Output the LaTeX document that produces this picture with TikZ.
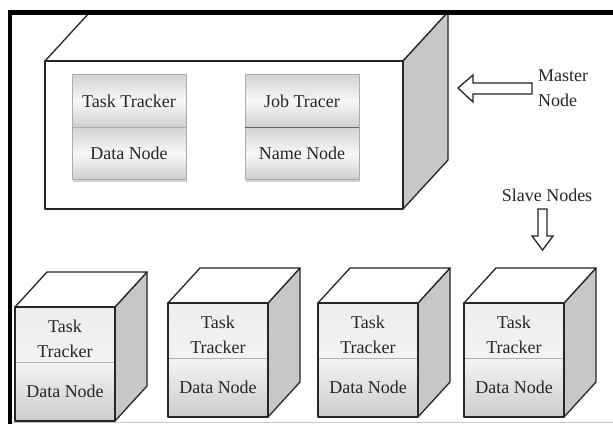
\documentclass[tikz,border=0pt]{standalone}
\usepackage{fontspec}
\setmainfont{Liberation Serif}
\usetikzlibrary{shadows}
\begin{document}
\begin{tikzpicture}[x=1pt,y=-1pt,
  edge/.style={draw=black!85, line width=1.3pt, line join=round},
  sideface/.style={edge, fill=black!22},
  topface/.style={edge, fill=white},
  lbl/.style={font=\fontsize{18}{25}\selectfont, text=black!85, inner sep=0pt, align=center},
  innerbox/.style={lbl, draw=gray!65, line width=0.6pt, minimum width=114pt, minimum height=52.5pt,
    top color=gray!35, bottom color=gray!38, middle color=gray!6,
    drop shadow={shadow xshift=1pt, shadow yshift=-2pt, opacity=0.35}},
  blockarrow/.style={draw=black!85, line width=1.3pt, fill=white, line join=miter}
]
\useasboundingbox (0,0) rectangle (613,424);
\fill[white] (0,0) rectangle (613,424);

% master cube
\draw[topface] (45,61) -- (90,12) -- (448,12) -- (403,61) -- cycle;
\draw[sideface] (403,61) -- (448,12) -- (448,160) -- (403,209) -- cycle;
\draw[edge, fill=white] (45,61) rectangle (403,209);

\node[innerbox] (mtt) at (129,101) {Task Tracker};
\node[innerbox] (mdn) at (129,153.5) {Data Node};
\node[innerbox] (mjt) at (302,101) {Job Tracer};
\node[innerbox] (mnn) at (302,153.5) {Name Node};
\draw[black!60, line width=1pt] (mjt.south west) -- (mjt.south east);

% frame
\draw[gray!45, line width=0.8pt] (12,422.5) -- (613,422.5);
\fill[black] (8,10) rectangle (613,15);
\fill[black] (8,10) rectangle (12,424);

% arrows and labels
\draw[blockarrow] (458,88) -- (473,75) -- (473,83) -- (532,83) -- (532,94) -- (473,94) -- (473,102) -- cycle;
\node[lbl, anchor=west, align=left] (master) at (538,88) {Master\\Node};
\node[lbl] (slave) at (547,195) {Slave Nodes};
\draw[blockarrow] (538,209) -- (547,209) -- (547,236) -- (553,236) -- (542.5,250) -- (532,236) -- (538,236) -- cycle;

% slave cubes
\foreach \L/\T/\B/\D/\n in {15/307/421/362/1, 168/303/417/358/2, 318/303/417/358/3, 464/303/417/358/4}{
  \draw[sideface] (\L+100,\T) -- (\L+132,\T-35) -- (\L+132,\B-35) -- (\L+100,\B) -- cycle;
  \draw[topface] (\L,\T) -- (\L+32,\T-35) -- (\L+132,\T-35) -- (\L+100,\T) -- cycle;
  \shade[top color=gray!14, bottom color=gray!40, middle color=gray!10] (\L,\T) rectangle (\L+100,\B);
  \draw[gray!60, line width=0.6pt] (\L,\D) -- (\L+100,\D);
  \draw[edge] (\L,\T) rectangle (\L+100,\B);
  \node[lbl] (tt\n) at (\L+50,{(\T+\D)/2+4}) {Task\\Tracker};
  \node[lbl] (dn\n) at (\L+50,{(\D+\B)/2}) {Data Node};
}
\end{tikzpicture}
\end{document}
